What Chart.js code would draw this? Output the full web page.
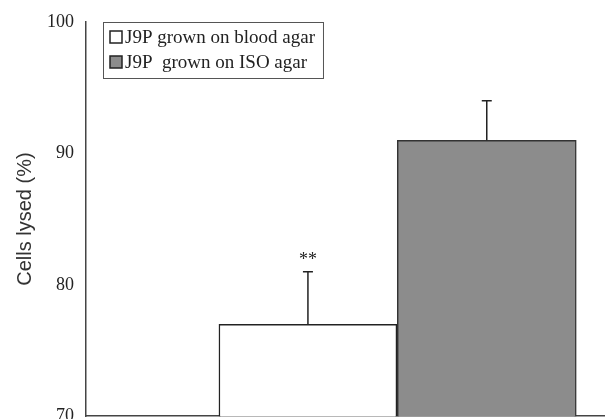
<!DOCTYPE html>
<html>
<head>
<meta charset="utf-8">
<script src="https://cdn.jsdelivr.net/npm/chart.js@4.4.0/dist/chart.umd.min.js"></script>
<style>
  html, body { margin: 0; padding: 0; background: #fff; overflow: hidden; }
  #wrap { position: absolute; left: 0; top: 0; width: 625px; height: 433px; }
</style>
</head>
<body>
<div id="wrap"><canvas id="myChart"></canvas></div>
<script>
const seriesLabels = ['J9P grown on blood agar', 'J9P  grown on ISO agar'];
const positions = [1, 2];
const means = [77, 91];
const errors = [4, 3];
const marks = ['**', ''];
const yTicks = [70, 80, 90, 100];

const serif = "'Liberation Serif', 'Times New Roman', serif";

const errorBars = {
  id: 'errorBars',
  afterDatasetsDraw(chart) {
    const ctx = chart.ctx;
    const x = chart.scales.x;
    const y = chart.scales.y;
    ctx.save();
    ctx.strokeStyle = '#222';
    ctx.lineWidth = 1.5;
    means.forEach((m, i) => {
      const px = x.getPixelForValue(positions[i]);
      const top = y.getPixelForValue(m + errors[i]);
      const base = y.getPixelForValue(m);
      ctx.beginPath();
      ctx.moveTo(px, base);
      ctx.lineTo(px, top);
      ctx.moveTo(px - 5, top);
      ctx.lineTo(px + 5, top);
      ctx.stroke();
      if (marks[i]) {
        ctx.fillStyle = '#222';
        ctx.font = '18px ' + serif;
        ctx.textAlign = 'center';
        ctx.textBaseline = 'bottom';
        ctx.fillText(marks[i], px, top - 2);
      }
    });
    ctx.restore();
  }
};

const boxLegend = {
  id: 'boxLegend',
  afterDraw(chart) {
    const ctx = chart.ctx;
    const left = chart.chartArea.left + 17;
    const top = chart.chartArea.top;
    ctx.save();
    ctx.font = '19px ' + serif;
    const w = Math.max(...seriesLabels.map(s => ctx.measureText(s).width)) + 30;
    ctx.strokeStyle = '#555';
    ctx.lineWidth = 1;
    ctx.strokeRect(left + 0.5, top + 0.5, w, 56);
    chart.data.datasets.forEach((ds, i) => {
      const cy = top + 15 + i * 25;
      ctx.fillStyle = ds.backgroundColor;
      ctx.fillRect(left + 7, cy - 6, 12, 12);
      ctx.strokeStyle = '#222';
      ctx.lineWidth = 1.5;
      ctx.strokeRect(left + 7, cy - 6, 12, 12);
      ctx.fillStyle = '#222';
      ctx.textBaseline = 'middle';
      ctx.fillText(seriesLabels[i], left + 22, cy + 1);
    });
    ctx.restore();
  }
};

new Chart(document.getElementById('myChart'), {
  type: 'bar',
  data: {
    datasets: [
      {
        label: seriesLabels[0],
        data: [{ x: positions[0], y: means[0] }],
        backgroundColor: '#ffffff',
        borderColor: '#222',
        borderWidth: 1.5,
        borderSkipped: 'bottom',
        barThickness: 178,
        grouped: false
      },
      {
        label: seriesLabels[1],
        data: [{ x: positions[1], y: means[1] }],
        backgroundColor: '#8c8c8c',
        borderColor: '#333',
        borderWidth: 1.5,
        borderSkipped: 'bottom',
        barThickness: 179,
        grouped: false
      }
    ]
  },
  options: {
    responsive: true,
    maintainAspectRatio: false,
    animation: false,
    layout: { padding: { left: 13, top: 22, right: 0, bottom: 0 } },
    plugins: { legend: { display: false }, tooltip: { enabled: false } },
    scales: {
      x: {
        type: 'linear',
        offset: false,
        min: -0.241,
        max: 2.773,
        grid: { display: false, drawTicks: false },
        border: { color: '#444', width: 1.5 },
        ticks: { display: false }
      },
      y: {
        min: 70,
        max: 100,
        afterBuildTicks(axis) { axis.ticks = yTicks.map(v => ({ value: v })); },
        grid: { display: false, drawOnChartArea: false, drawTicks: true, tickLength: 6, tickColor: '#444' },
        border: { color: '#444', width: 1.5 },
        ticks: { color: '#222', font: { family: serif, size: 18 }, padding: 6 },
        title: {
          display: true,
          text: 'Cells lysed (%)',
          color: '#333',
          font: { family: "'Liberation Sans', Arial, sans-serif", size: 20 },
          padding: { top: 0, bottom: 4 }
        }
      }
    }
  },
  plugins: [errorBars, boxLegend]
});
</script>
</body>
</html>
